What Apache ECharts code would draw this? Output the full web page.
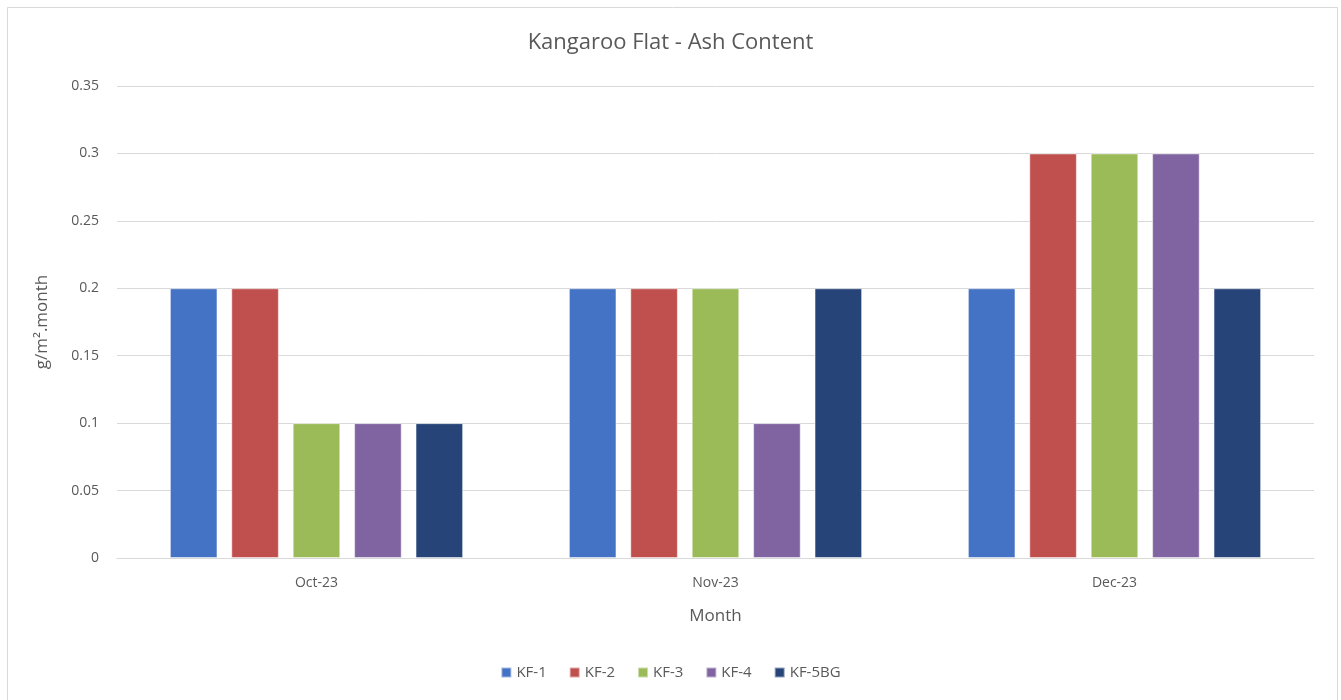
<!DOCTYPE html>
<html>
<head>
<meta charset="utf-8">
<script src="https://cdn.jsdelivr.net/npm/echarts@6/dist/echarts.min.js"></script>
<style>
  html, body { margin: 0; padding: 0; background: #fff; }
  #chart { width: 1341px; height: 700px; }
</style>
</head>
<body>
<div id="chart"></div>
<script>
var months = ['Oct-23', 'Nov-23', 'Dec-23'];
var sites = ['KF-1', 'KF-2', 'KF-3', 'KF-4', 'KF-5BG'];
var kf1 = [0.2, 0.2, 0.2];
var kf2 = [0.2, 0.2, 0.3];
var kf3 = [0.1, 0.2, 0.3];
var kf4 = [0.1, 0.1, 0.3];
var kf5bg = [0.1, 0.2, 0.2];
var yTicks = [0, 0.05, 0.1, 0.15, 0.2, 0.25, 0.3, 0.35];

var values = [kf1, kf2, kf3, kf4, kf5bg];
var colors = ['#4472C4', '#C0504D', '#9BBB59', '#8064A2', '#264478'];
var font = 'Open Sans, Noto Sans, sans-serif';

var series = sites.map(function (name, i) {
    return {
        name: name,
        type: 'bar',
        data: values[i],
        barGap: '29%',
        barCategoryGap: '26.5%',
        itemStyle: {
            color: colors[i],
            borderColor: 'rgba(255,255,255,0.5)',
            borderWidth: 1
        }
    };
});

var chart = echarts.init(document.getElementById('chart'));
chart.setOption({
    animation: false,
    backgroundColor: '#fff',
    graphic: [{
        type: 'rect',
        shape: { x: 7.5, y: 7.5, width: 1330, height: 700 },
        style: { fill: 'none', stroke: '#d9d9d9', lineWidth: 1 },
        silent: true
    }],
    title: {
        text: 'Kangaroo Flat - Ash Content',
        left: 'center',
        top: 27,
        textStyle: { color: '#595959', fontSize: 22, fontWeight: 'normal', fontFamily: font }
    },
    grid: { left: 117, right: 27, top: 86, bottom: 142, containLabel: false },
    legend: {
        data: sites,
        bottom: 15,
        left: 'center',
        itemWidth: 10,
        itemHeight: 10,
        itemGap: 22,
        icon: 'rect',
        textStyle: { color: '#595959', fontSize: 15, fontFamily: font }
    },
    xAxis: {
        type: 'category',
        data: months,
        name: 'Month',
        nameLocation: 'middle',
        nameGap: 50,
        nameTextStyle: { color: '#595959', fontSize: 17, fontFamily: font },
        axisLine: { lineStyle: { color: '#d9d9d9', width: 1 } },
        axisTick: { show: false },
        axisLabel: { color: '#595959', fontSize: 14, margin: 18, fontFamily: font }
    },
    yAxis: {
        type: 'value',
        min: yTicks[0],
        max: yTicks[yTicks.length - 1],
        interval: 0.05,
        name: 'g/m\u00b2.month',
        nameLocation: 'middle',
        nameGap: 66,
        nameTextStyle: { color: '#595959', fontSize: 17, fontFamily: font },
        axisLine: { show: false },
        axisTick: { show: false },
        splitLine: { lineStyle: { color: '#d9d9d9', width: 1 } },
        axisLabel: {
            color: '#595959', fontSize: 14, margin: 18, fontFamily: font,
            formatter: function (v) { return String(Math.round(v * 100) / 100); }
        }
    },
    series: series
});
</script>
</body>
</html>
